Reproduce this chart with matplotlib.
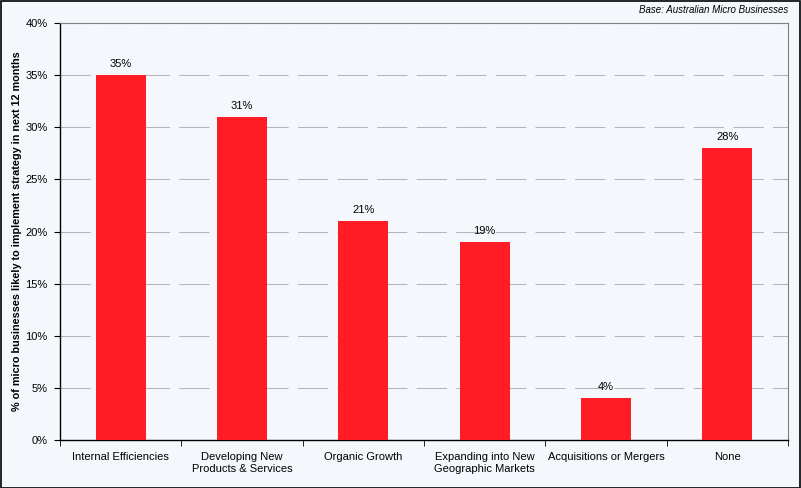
import matplotlib
matplotlib.use("Agg")
import matplotlib.pyplot as plt
from matplotlib.ticker import FixedLocator, NullFormatter
import numpy as np

categories = ["Internal Efficiencies", "Developing New\nProducts & Services", "Organic Growth",
              "Expanding into New\nGeographic Markets", "Acquisitions or Mergers", "None"]
values = [35, 31, 21, 19, 4, 28]
yticks = [0, 5, 10, 15, 20, 25, 30, 35, 40]

plt.rcParams['font.family'] = ['Liberation Sans', 'DejaVu Sans']
bg = '#F4F8FD'
fig = plt.figure(figsize=(8.01, 4.88), dpi=100, facecolor=bg)
ax = fig.add_axes([60/801, 1-440/488, (788-60)/801, (440-23)/488])
ax.set_facecolor(bg)

x = np.arange(len(categories))
ax.bar(x, values, width=0.41, color='#FF1C24', zorder=3)
for xi, v in zip(x, values):
    ax.text(xi, v + 0.6, f"{v}%", ha='center', va='bottom', fontsize=8)

ax.set_xlim(-0.5, len(categories) - 0.5)
ax.set_ylim(0, 40)
ax.set_yticks(yticks)
ax.set_yticklabels([f"{t}%" for t in yticks], fontsize=8)
ax.yaxis.grid(True, color='#B4B4BA', linestyle=(0, (29, 9)), linewidth=0.75, zorder=0)
ax.set_xticks(x)
ax.set_xticklabels(categories, fontsize=8)
ax.tick_params(axis='x', length=0, pad=9)
ax.xaxis.set_minor_locator(FixedLocator(np.arange(-0.5, len(categories), 1.0)))
ax.xaxis.set_minor_formatter(NullFormatter())
ax.tick_params(axis='x', which='minor', length=4, direction='out', color='black')
ax.tick_params(axis='y', length=4, direction='out', color='black', pad=5)

for s in ['top', 'right']:
    ax.spines[s].set_color('#808080')
    ax.spines[s].set_linewidth(0.8)
for s in ['left', 'bottom']:
    ax.spines[s].set_color('black')
    ax.spines[s].set_linewidth(1.0)

ax.set_ylabel("% of micro businesses likely to implement strategy in next 12 months",
              fontsize=7.8, fontweight='bold', labelpad=2)

fig.text(788/801, 1-10/488, "Base: Australian Micro Businesses", ha='right', va='center',
         fontsize=7, style='italic')

border = plt.Rectangle((0.001, 0.001), 0.998, 0.997, transform=fig.transFigure,
                       fill=False, edgecolor='black', linewidth=1.2)
fig.patches.append(border)

fig.savefig("out.png", dpi=100, facecolor=bg)
